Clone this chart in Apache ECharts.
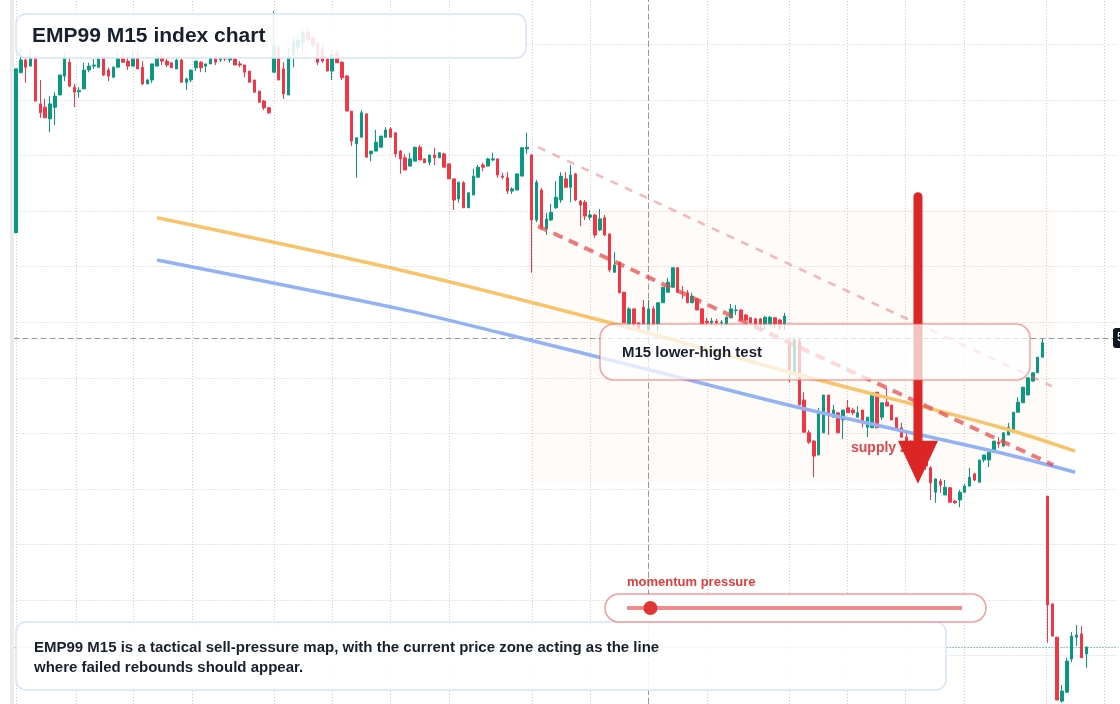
<!DOCTYPE html>
<html>
<head>
<meta charset="utf-8">
<title>EMP99 M15 index chart</title>
<script src="https://cdn.jsdelivr.net/npm/echarts@6/dist/echarts.min.js"></script>
<style>
html, body { margin: 0; padding: 0; background: #fff; }
#chart { width: 1120px; height: 704px; }
</style>
</head>
<body>
<div id="chart"></div>
<script>
// EMP99 M15 bars, one row per candle: [open, close, low, high]
var bars = [
    [5086.1,5115.6,5086.1,5115.6],[5114.9,5117.2,5114.9,5119.4],[5117.2,5115.9,5113.1,5117.6],[5116.1,5117.6,5116.1,5119.0],
    [5117.6,5109.8,5109.8,5117.9],[5109.3,5107.7,5106.8,5113.6],[5108.7,5106.8,5106.8,5110.2],[5106.6,5109.3,5104.2,5110.7],
    [5108.7,5110.7,5105.5,5111.4],[5110.9,5114.5,5110.9,5114.5],[5114.3,5117.7,5113.4,5118.6],[5116.8,5112.5,5112.3,5117.6],
    [5112.3,5111.4,5108.7,5112.9],[5111.5,5111.7,5110.4,5112.3],[5112.0,5115.4,5112.0,5116.7],[5115.4,5116.1,5115.0,5116.7],
    [5116.1,5116.3,5115.6,5117.4],[5115.9,5117.4,5115.8,5117.9],[5117.6,5114.5,5114.3,5117.9],[5115.4,5114.3,5113.4,5115.8],
    [5114.1,5115.9,5114.1,5116.1],[5115.9,5117.6,5115.9,5118.5],[5117.6,5116.8,5116.8,5118.5],[5117.0,5116.1,5115.4,5117.6],
    [5116.1,5117.6,5116.1,5119.0],[5117.6,5115.6,5115.6,5119.0],[5115.9,5112.9,5112.7,5117.0],[5112.9,5113.6,5112.9,5113.8],
    [5113.6,5116.5,5113.1,5116.5],[5116.1,5117.6,5116.1,5118.5],[5117.6,5117.0,5116.3,5118.6],[5117.0,5116.3,5115.9,5117.4],
    [5116.7,5115.8,5115.8,5116.7],[5115.6,5117.2,5115.6,5117.6],[5117.2,5113.2,5113.2,5117.6],[5113.2,5113.8,5111.8,5114.0],
    [5113.6,5115.4,5113.2,5115.4],[5115.8,5117.0,5115.2,5117.0],[5116.8,5115.8,5115.0,5117.0],[5116.1,5116.5,5115.0,5116.5],
    [5116.5,5117.6,5116.5,5117.9],[5117.6,5116.8,5116.3,5117.9],[5117.2,5117.6,5116.8,5118.1],[5117.6,5117.4,5117.0,5117.7],
    [5117.2,5117.6,5116.7,5117.9],[5117.4,5116.3,5116.3,5117.7],[5116.5,5116.3,5115.9,5117.0],[5116.3,5115.0,5114.1,5116.3],
    [5115.2,5113.2,5113.2,5115.2],[5113.6,5111.4,5111.4,5113.6],[5111.6,5109.6,5109.6,5111.6],[5109.8,5108.6,5108.2,5110.0],
    [5108.6,5107.7,5107.5,5108.7],[5115.0,5119.9,5115.0,5126.0],[5119.4,5113.6,5113.6,5119.9],[5115.6,5111.1,5110.2,5116.8],
    [5110.9,5117.6,5110.9,5119.4],[5118.1,5120.3,5115.9,5121.3],[5119.5,5120.8,5118.5,5121.7],[5120.4,5122.1,5118.5,5122.6],
    [5122.1,5120.8,5120.4,5123.0],[5121.2,5119.9,5119.4,5121.5],[5120.3,5116.8,5116.3,5120.4],[5119.0,5117.0,5116.7,5119.9],
    [5117.4,5115.2,5115.2,5117.7],[5115.2,5118.1,5113.6,5119.0],[5118.5,5116.7,5116.7,5119.0],[5116.8,5114.0,5113.6,5117.0],
    [5114.3,5108.0,5108.0,5114.5],[5108.0,5102.6,5101.7,5108.0],[5102.1,5103.2,5096.0,5103.2],[5103.3,5107.7,5103.3,5108.2],
    [5107.5,5099.7,5099.7,5107.5],[5100.3,5100.8,5099.0,5100.8],[5100.8,5102.4,5100.8,5104.6],[5101.5,5103.5,5101.5,5103.5],
    [5103.3,5104.6,5103.3,5105.1],[5104.8,5103.3,5103.3,5105.1],[5104.1,5100.3,5099.7,5104.1],[5100.8,5099.4,5096.7,5101.0],
    [5099.6,5097.4,5097.4,5100.3],[5098.1,5099.4,5098.1,5100.5],[5099.0,5101.5,5099.0,5101.5],[5101.5,5099.2,5099.2,5101.9],
    [5099.4,5098.7,5098.7,5099.4],[5098.8,5100.1,5098.3,5100.1],[5100.1,5099.6,5098.3,5101.4],[5099.6,5100.5,5099.6,5100.6],
    [5100.3,5097.9,5097.9,5100.5],[5098.5,5095.8,5095.8,5098.5],[5095.8,5092.0,5090.2,5095.8],[5092.2,5095.2,5091.5,5095.2],
    [5095.1,5090.6,5090.6,5095.4],[5090.6,5093.3,5090.6,5093.3],[5092.9,5096.3,5092.9,5097.6],[5096.1,5097.9,5096.1,5098.3],
    [5098.3,5097.9,5097.2,5098.7],[5098.1,5099.4,5098.1,5099.6],[5099.2,5099.4,5099.0,5100.5],[5099.4,5096.5,5096.0,5099.4],
    [5096.3,5096.1,5095.8,5096.9],[5096.0,5093.6,5093.1,5097.0],[5093.6,5094.0,5093.1,5094.3],[5093.8,5096.7,5093.8,5096.7],
    [5096.3,5101.4,5096.3,5101.5],[5101.2,5101.5,5100.3,5104.1],[5100.1,5088.4,5078.9,5100.3],[5088.4,5095.2,5088.0,5095.6],
    [5093.8,5087.0,5086.6,5094.2],[5086.8,5088.6,5085.7,5089.7],[5088.4,5089.8,5088.2,5091.3],[5090.6,5092.5,5090.4,5095.4],
    [5092.0,5096.3,5091.5,5097.0],[5095.8,5094.3,5094.2,5097.0],[5094.3,5096.5,5091.6,5098.3],[5096.7,5092.0,5091.8,5096.9],
    [5091.8,5091.1,5087.3,5092.0],[5091.6,5089.1,5088.4,5092.0],[5088.9,5089.3,5088.4,5090.2],[5089.3,5085.7,5085.2,5089.5],
    [5086.6,5088.6,5086.4,5090.4],[5088.8,5085.7,5085.5,5089.3],[5085.9,5079.4,5079.0,5085.9],[5079.0,5080.3,5078.9,5082.6],
    [5080.8,5075.3,5075.3,5080.8],[5075.4,5069.9,5069.9,5075.4],[5069.7,5072.4,5068.6,5072.7],[5072.4,5069.7,5068.6,5072.4],
    [5069.9,5068.6,5068.2,5070.0],[5072.7,5069.7,5069.7,5074.0],[5068.6,5072.4,5068.6,5074.0],[5072.4,5069.7,5069.3,5072.9],
    [5069.7,5073.5,5068.2,5073.5],[5073.5,5076.3,5073.5,5076.3],[5075.4,5077.2,5075.4,5078.0],[5076.3,5079.8,5076.3,5079.8],
    [5079.8,5075.4,5075.4,5079.8],[5075.4,5075.3,5074.2,5076.5],[5075.3,5073.5,5073.5,5075.8],[5073.5,5074.7,5073.5,5075.3],
    [5074.2,5072.2,5072.2,5074.2],[5072.4,5069.7,5069.7,5072.4],[5070.2,5069.9,5069.3,5070.8],[5069.9,5070.2,5069.5,5070.8],
    [5070.2,5069.9,5069.3,5070.6],[5069.9,5070.0,5069.0,5070.4],[5069.7,5070.9,5069.7,5071.1],[5070.8,5072.4,5070.8,5073.3],
    [5072.1,5072.2,5071.3,5073.1],[5072.2,5070.4,5070.4,5072.4],[5071.3,5070.4,5070.2,5071.5],[5070.8,5069.9,5069.7,5070.9],
    [5070.6,5069.7,5069.1,5070.8],[5070.6,5069.7,5068.6,5070.8],[5069.7,5070.9,5068.6,5071.1],[5069.7,5070.9,5069.3,5071.1],
    [5070.8,5069.7,5069.0,5070.9],[5070.4,5069.7,5068.6,5070.6],[5069.7,5071.1,5068.6,5071.7],[5065.9,5061.4,5059.2,5067.2],
    [5061.0,5066.8,5061.0,5067.2],[5066.6,5055.1,5055.1,5067.0],[5056.0,5050.2,5050.2,5057.4],[5050.1,5048.4,5048.1,5050.6],
    [5048.6,5045.9,5042.1,5048.8],[5046.1,5053.7,5046.1,5054.6],[5050.1,5056.9,5050.1,5056.9],[5056.9,5053.3,5049.7,5056.9],
    [5052.9,5054.2,5052.9,5055.1],[5053.7,5050.1,5050.1,5053.7],[5052.4,5054.2,5049.0,5054.2],[5054.6,5053.7,5053.7,5056.0],
    [5054.2,5053.7,5053.3,5054.6],[5052.9,5053.7,5052.9,5054.9],[5054.2,5051.9,5051.1,5054.2],[5051.1,5052.9,5049.3,5052.9],
    [5051.0,5057.3,5051.0,5057.3],[5057.4,5051.0,5051.0,5057.4],[5052.9,5055.5,5052.4,5055.5],[5055.6,5054.9,5054.9,5058.2],
    [5055.1,5052.4,5052.4,5055.1],[5052.8,5050.6,5050.6,5052.8],[5051.0,5049.3,5049.3,5051.9],[5049.3,5048.3,5048.3,5050.2],
    [5048.3,5047.0,5046.1,5048.8],[5047.0,5047.7,5045.6,5048.1],[5047.7,5045.6,5044.8,5048.1],[5045.6,5044.1,5043.4,5046.1],
    [5043.8,5041.1,5038.0,5044.1],[5039.4,5041.8,5037.5,5041.8],[5041.4,5040.7,5039.3,5041.8],[5038.9,5040.3,5038.9,5041.6],
    [5040.2,5037.6,5037.6,5040.3],[5037.8,5037.5,5037.3,5038.0],[5038.0,5039.4,5036.7,5039.8],[5039.4,5040.5,5039.4,5040.9],
    [5040.5,5042.1,5040.5,5043.8],[5042.7,5041.6,5041.4,5042.9],[5041.2,5045.2,5041.2,5045.2],[5045.2,5046.1,5044.8,5046.1],
    [5045.2,5046.6,5043.9,5047.0],[5046.6,5048.6,5046.6,5048.6],[5048.4,5048.1,5047.4,5049.3],[5047.7,5050.1,5047.7,5050.1],
    [5049.7,5051.1,5049.7,5051.9],[5050.2,5053.8,5050.2,5053.8],[5053.8,5055.6,5053.8,5056.5],[5055.5,5058.3,5055.5,5058.3],
    [5056.9,5060.0,5056.9,5060.0],[5059.4,5060.9,5059.4,5060.9],[5060.9,5063.7,5060.9,5063.7],[5063.7,5066.3,5063.7,5067.0],
    [5038.7,5019.1,5012.3,5038.7],[5019.3,5013.5,5013.5,5019.3],[5013.3,5002.0,5002.0,5013.3],[5001.8,5003.6,5001.5,5004.7],
    [5003.4,5009.0,5003.4,5009.6],[5009.4,5013.5,5008.8,5014.2],[5013.3,5013.7,5011.7,5015.5],[5013.9,5009.6,5009.6,5015.3],
    [5010.3,5011.5,5007.8,5011.7]
];

var slotCount = 227;        // bar slots on the time axis (empty room after the last bar)
var priceMin = 5001.28;
var priceMax = 5128;

// grid positions (bar index / price)
var gridX = [0, 12.3, 24.1, 36.2, 53.0, 65.0, 76.9, 89.0, 106.1, 118.0, 129.9, 142.0, 158.9, 170.8, 182.8, 194.9, 211.7, 223.6];
var gridY = [5120, 5110, 5100, 5090, 5080, 5070, 5060, 5050, 5040, 5030, 5020, 5010];

// overlays, [bar index, price]
var maFast = [[29.0, 5088.8], [78.9, 5079.4], [122.1, 5069.9], [161.1, 5060.5], [202.3, 5051.1], [217.7, 5046.8]];
var maSlow = [[29.0, 5081.2], [78.9, 5072.4], [99.5, 5068.1], [130.3, 5061.4], [161.1, 5054.6], [202.3, 5046.5], [217.7, 5043.0]];
var upperTrend = [[107.3, 5101.5], [212.9, 5058.5]];
var lowerTrend = [[107.3, 5087.3], [213.2, 5044.3]];
var supplyZone = [[105.0, 5090.2], [212.9, 5041.2]];
var arrowShaft = [[185.4, 5092.6], [185.4, 5047.0]];
var arrowHead = [185.4, 5044.8];

var crossIdx = 130;
var crossPrice = 5067.2;
var lastPrice = 5011.5;
var momentum = 0.07;        // knob position on the pressure gauge, 0..1

var slots = [];
for (var i = 0; i < slotCount; i++) {
    var m = i * 15;
    slots.push(('0' + Math.floor(m / 60) % 24).slice(-2) + ':' + ('0' + m % 60).slice(-2));
}

var font = '"Liberation Sans", Arial, sans-serif';
var ink = '#18202f';

var myChart = echarts.init(document.getElementById('chart'));

function helper(name, z, extra) {
    var s = {
        name: name,
        type: 'line',
        xAxisIndex: 1,
        yAxisIndex: 0,
        data: [[0, 5050]],
        symbol: 'none',
        silent: true,
        lineStyle: { opacity: 0 },
        z: z
    };
    for (var k in extra) s[k] = extra[k];
    return s;
}

var gridLines = [];
gridX.forEach(function(v) { gridLines.push({ xAxis: v }); });
gridY.forEach(function(v) { gridLines.push({ yAxis: v }); });

var trackX1 = 627, trackX2 = 962;

var option = {
    animation: false,
    backgroundColor: '#ffffff',
    grid: {
        left: 13.57,
        right: 2.07,
        top: 0,
        bottom: 0,
        outerBoundsMode: 'none'
    },
    xAxis: [{
        type: 'category',
        data: slots,
        boundaryGap: true,
        show: false
    }, {
        type: 'value',
        min: -0.5,
        max: slotCount - 0.5,
        show: false
    }],
    yAxis: [{
        type: 'value',
        min: priceMin,
        max: priceMax,
        show: false,
        splitLine: { show: false }
    }],
    series: [
        helper('grid', 0, {
            markLine: {
                z: 0,
                silent: true,
                symbol: ['none', 'none'],
                label: { show: false },
                lineStyle: { color: '#cdcdcd', type: [1, 2], width: 1 },
                data: gridLines
            }
        }),
        helper('zone', 1, {
            markArea: {
                z: 1,
                silent: true,
                itemStyle: { color: 'rgba(235,195,165,0.065)' },
                data: [[{ coord: supplyZone[0] }, { coord: supplyZone[1] }]]
            }
        }),
        helper('cursor', 1, {
            markLine: {
                z: 1,
                silent: true,
                symbol: ['none', 'none'],
                label: { show: false },
                data: [
                    { xAxis: crossIdx, lineStyle: { color: '#9a9a9a', type: [6, 3], width: 1 } },
                    { yAxis: crossPrice, lineStyle: { color: '#9a9a9a', type: [6, 3], width: 1 } },
                    { yAxis: lastPrice, lineStyle: { color: '#089981', type: [1, 2], width: 1 } }
                ]
            }
        }),
        {
            name: 'EMP99 M15',
            type: 'candlestick',
            xAxisIndex: 0,
            yAxisIndex: 0,
            data: bars,
            barWidth: 3,
            silent: true,
            itemStyle: {
                color: '#089981',
                color0: '#f23645',
                borderColor: '#089981',
                borderColor0: '#f23645',
                borderWidth: 1
            },
            z: 2
        },
        {
            name: 'ma fast',
            type: 'line',
            xAxisIndex: 1,
            data: maFast,
            smooth: 0.3,
            symbol: 'none',
            silent: true,
            lineStyle: { color: '#f7c46c', width: 3.5 },
            z: 3
        },
        {
            name: 'ma slow',
            type: 'line',
            xAxisIndex: 1,
            data: maSlow,
            smooth: 0.3,
            symbol: 'none',
            silent: true,
            lineStyle: { color: '#93b2f4', width: 3.5 },
            z: 3
        },
        {
            name: 'upper trend',
            type: 'line',
            xAxisIndex: 1,
            data: upperTrend,
            symbol: 'none',
            silent: true,
            lineStyle: { color: 'rgba(236,100,100,0.45)', width: 2.5, type: [8, 8] },
            z: 4
        },
        {
            name: 'lower trend',
            type: 'line',
            xAxisIndex: 1,
            data: lowerTrend,
            symbol: 'none',
            silent: true,
            lineStyle: { color: 'rgba(228,72,72,0.72)', width: 4, type: [10, 7] },
            z: 4
        },
        {
            name: 'arrow shaft',
            type: 'line',
            xAxisIndex: 1,
            data: arrowShaft,
            symbol: 'none',
            silent: true,
            lineStyle: { color: '#dc2626', width: 9, cap: 'round' },
            z: 6
        },
        {
            name: 'arrow head',
            type: 'scatter',
            xAxisIndex: 1,
            data: [arrowHead],
            symbol: 'triangle',
            symbolSize: [40, 43],
            symbolRotate: 180,
            silent: true,
            itemStyle: { color: '#dc2626', opacity: 1 },
            z: 6
        }
    ],
    graphic: [
        // left scale edge
        { type: 'rect', z: 20, shape: { x: 10, y: 0, width: 4, height: 704 }, style: { fill: '#ebebeb' } },
        // title
        { type: 'rect', z: 20, shape: { x: 16, y: 14, width: 510, height: 44, r: 10 },
          style: { fill: 'rgba(255,255,255,0.88)', stroke: '#d6e4fb', lineWidth: 1.5 } },
        { type: 'text', z: 21, x: 32, y: 36,
          style: { text: 'EMP99 M15 index chart', fill: ink, font: 'bold 21px ' + font, verticalAlign: 'middle' } },
        // supply zone tag (sits under the arrow)
        { type: 'text', z: 5, x: 851, y: 448,
          style: { text: 'supply zone', fill: '#e0474c', font: 'bold 14px ' + font, verticalAlign: 'middle' } },
        // lower-high test box
        { type: 'rect', z: 20, shape: { x: 600, y: 324, width: 430, height: 56, r: 14 },
          style: { fill: 'rgba(255,255,255,0.72)', stroke: 'rgba(236,90,90,0.55)', lineWidth: 1.5 } },
        { type: 'text', z: 21, x: 622, y: 353,
          style: { text: 'M15 lower-high test', fill: ink, font: 'bold 15px ' + font, verticalAlign: 'middle' } },
        // caption
        { type: 'rect', z: 20, shape: { x: 16, y: 622, width: 930, height: 68, r: 10 },
          style: { fill: 'rgba(255,255,255,0.88)', stroke: '#d6e4fb', lineWidth: 1.5 } },
        { type: 'text', z: 21, x: 34, y: 648,
          style: { text: 'EMP99 M15 is a tactical sell-pressure map, with the current price zone acting as the line', fill: ink, font: 'bold 15px ' + font, verticalAlign: 'middle' } },
        { type: 'text', z: 21, x: 34, y: 668,
          style: { text: 'where failed rebounds should appear.', fill: ink, font: 'bold 15px ' + font, verticalAlign: 'middle' } },
        // momentum gauge
        { type: 'text', z: 22, x: 627, y: 582,
          style: { text: 'momentum pressure', fill: '#e03c3c', font: 'bold 13px ' + font, verticalAlign: 'middle' } },
        { type: 'rect', z: 22, shape: { x: 605, y: 594, width: 381, height: 28, r: 14 },
          style: { fill: 'rgba(255,255,255,0.94)', stroke: 'rgba(236,90,90,0.6)', lineWidth: 1.5 } },
        { type: 'line', z: 23, shape: { x1: trackX1, y1: 608, x2: trackX2, y2: 608 },
          style: { stroke: 'rgba(236,100,100,0.75)', lineWidth: 4 } },
        { type: 'circle', z: 24, shape: { cx: trackX1 + momentum * (trackX2 - trackX1), cy: 608, r: 7 },
          style: { fill: '#e03535' } },
        // crosshair price tag (cut by the right edge)
        { type: 'rect', z: 20, shape: { x: 1113, y: 328, width: 40, height: 20, r: 3 }, style: { fill: '#131722' } },
        { type: 'text', z: 21, x: 1117, y: 338,
          style: { text: String(crossPrice), fill: '#ffffff', font: '12px ' + font, verticalAlign: 'middle' } }
    ]
};

myChart.setOption(option);
window.addEventListener('resize', function() {
    myChart.resize();
});
</script>
</body>
</html>
